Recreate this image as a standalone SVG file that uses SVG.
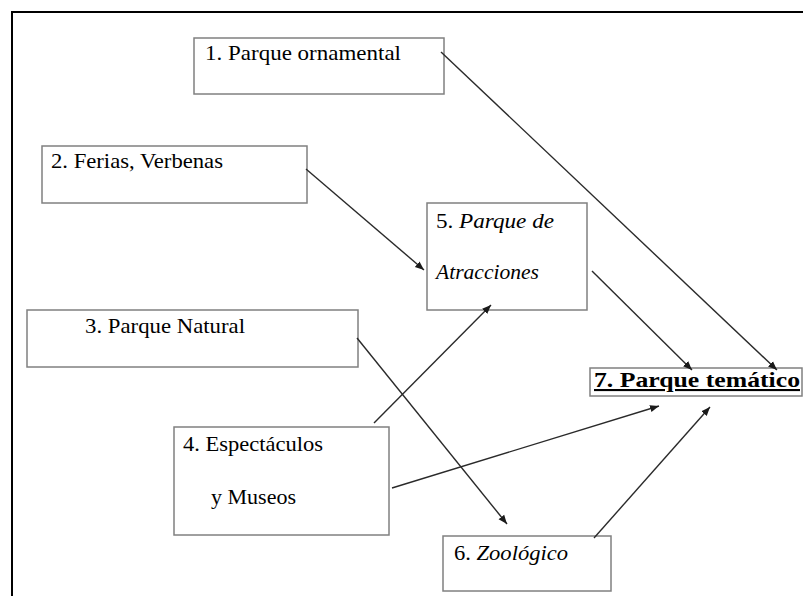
<svg xmlns="http://www.w3.org/2000/svg" width="803" height="596" viewBox="0 0 803 596">
<defs>
<style>
.box{fill:#fff;stroke:#808080;stroke-width:1.5}
text{font-family:'Liberation Serif','DejaVu Serif',serif;font-size:21px;fill:#000}
.i{font-style:italic}
.c{stroke:#2a2a2a;stroke-width:1.4;fill:none;marker-end:url(#ah)}
</style>
<marker id="ah" viewBox="0 0 10 10" refX="10" refY="5" markerWidth="9" markerHeight="9" markerUnits="userSpaceOnUse" orient="auto">
<path d="M0,1 L10,5 L0,9 z" fill="#1a1a1a"/>
</marker>
</defs>
<rect width="803" height="596" fill="#fff"/>
<path d="M12,596 V12 H803" fill="none" stroke="#000" stroke-width="2"/>
<g id="n1"><rect class="box" x="194" y="38" width="250" height="56"/><text x="205" y="60" textLength="196" lengthAdjust="spacingAndGlyphs">1.  Parque ornamental</text></g>
<g id="n2"><rect class="box" x="42" y="146" width="265" height="57"/><text x="51" y="168" textLength="172" lengthAdjust="spacingAndGlyphs">2. Ferias, Verbenas</text></g>
<g id="n5"><rect class="box" x="427" y="203" width="160" height="107"/><text x="436" y="228" textLength="118" lengthAdjust="spacingAndGlyphs">5. <tspan class="i">Parque de</tspan></text><text class="i" x="436" y="279" textLength="103" lengthAdjust="spacingAndGlyphs">Atracciones</text></g>
<g id="n3"><rect class="box" x="27" y="310" width="331" height="57"/><text x="85" y="333" textLength="160" lengthAdjust="spacingAndGlyphs">3. Parque Natural</text></g>
<g id="n4"><rect class="box" x="174" y="427" width="215" height="108"/><text x="183" y="451" textLength="140" lengthAdjust="spacingAndGlyphs">4. Espectáculos</text><text x="211" y="504" textLength="85" lengthAdjust="spacingAndGlyphs">y Museos</text></g>
<g id="n6"><rect class="box" x="443" y="536" width="168" height="55"/><text x="454" y="560" textLength="114" lengthAdjust="spacingAndGlyphs">6. <tspan class="i">Zoológico</tspan></text></g>
<g id="n7"><rect class="box" x="590" y="368" width="212" height="28"/><text x="594" y="387" font-weight="bold" text-decoration="underline" textLength="206" lengthAdjust="spacingAndGlyphs">7. Parque temático</text></g>
<g id="connectors">
<line class="c" x1="441" y1="52" x2="777" y2="370"/>
<line class="c" x1="306" y1="169" x2="424" y2="270"/>
<line class="c" x1="592" y1="271" x2="692" y2="370"/>
<line class="c" x1="357" y1="338" x2="507" y2="524"/>
<line class="c" x1="374" y1="423" x2="491" y2="305"/>
<line class="c" x1="392" y1="488" x2="659" y2="406"/>
<line class="c" x1="594" y1="538" x2="710" y2="407"/>
</g>
</svg>
